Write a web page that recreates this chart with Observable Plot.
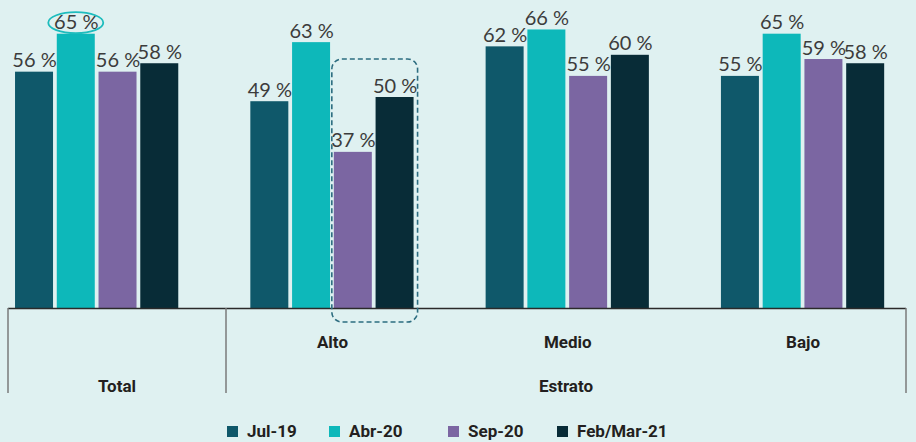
<!DOCTYPE html>
<html>
<head>
<meta charset="utf-8">
<script src="https://cdn.jsdelivr.net/npm/d3@7"></script>
<script src="https://cdn.jsdelivr.net/npm/@observablehq/plot@0.6"></script>
<style>
  html, body { margin: 0; padding: 0; background: #dff1f1; }
  #wrap { position: relative; width: 916px; height: 442px; overflow: hidden; background: #dff1f1; }
  #legend { position: absolute; left: 0; top: 421px; width: 916px; height: 21px;
    font-family: Roboto, "Liberation Sans", sans-serif; font-weight: 700; font-size: 17px; color: #231f20; }
  #legend .it { position: absolute; top: 0; white-space: nowrap; display: flex; align-items: center; }
  #legend .sw { display: inline-block; width: 11px; height: 11px; margin-right: 9px; }
</style>
</head>
<body>
<div id="wrap"><div id="chart"></div><div id="legend"></div></div>
<script>
const groups = ["Total", "Alto", "Medio", "Bajo"];
const periods = ["Jul-19", "Abr-20", "Sep-20", "Feb/Mar-21"];
const colors = ["#0f586a", "#0db8ba", "#7b66a2", "#082c37"];
const valJul19 = [56, 49, 62, 55];
const valAbr20 = [65, 63, 66, 65];
const valSep20 = [56, 37, 55, 59];
const valFeb21 = [58, 50, 60, 58];
const subLabels = ["Alto", "Medio", "Bajo"];
const headLabels = ["Total", "Estrato"];

const series = [valJul19, valAbr20, valSep20, valFeb21];
const data = [];
groups.forEach((g, gi) => periods.forEach((p, pi) => data.push({group: g, period: p, value: series[pi][gi]})));

(function () {
const W = 916, H = 415;
const plot = Plot.plot({
  width: W, height: H,
  marginTop: 0, marginLeft: 0, marginRight: 0, marginBottom: H - 308,
  style: {background: "transparent", fontFamily: "Lato, 'Open Sans', sans-serif"},
  fx: {domain: groups, range: [-21, 920.2], padding: 0, round: false, axis: null},
  x: {domain: periods, paddingInner: 0.09, paddingOuter: 0.863, round: false, axis: null},
  y: {domain: [0, 100], range: [308, -114], axis: null},
  color: {domain: periods, range: colors},
  marks: [
    Plot.barY(data, {fx: "group", x: "period", y: "value", fill: "period"}),
    Plot.text(data, {fx: "group", x: "period", y: "value", text: d => `${d.value} %`,
      dy: -5, lineAnchor: "bottom", fontSize: 20, fontWeight: 400, fill: "#3c3c3c"}),
    Plot.text(subLabels.map(g => ({group: g})), {fx: "group", text: "group", frameAnchor: "bottom",
      dy: 34, lineAnchor: "middle", fontSize: 17, fontWeight: 700, fill: "#231f20",
      fontFamily: "Roboto, 'Liberation Sans', sans-serif"})
  ]
});
document.getElementById("chart").appendChild(plot);

const svg = d3.select(plot);
const fx = plot.scale("fx"), x = plot.scale("x"), y = plot.scale("y");
const y0 = y.apply(0);
const bw = x.bandwidth;
const g = svg.append("g");
const sepX = [8, 226, 906];
g.append("line").attr("x1", sepX[0]).attr("x2", sepX[2]).attr("y1", y0 + 0.5).attr("y2", y0 + 0.5)
  .attr("stroke", "#2a2a2a").attr("stroke-width", 1.5);
sepX.forEach(sx => g.append("line").attr("x1", sx).attr("x2", sx).attr("y1", y0).attr("y2", 393)
  .attr("stroke", "#7a7a7a").attr("stroke-width", 1.5));
headLabels.forEach((t, i) => g.append("text").attr("x", (sepX[i] + sepX[i + 1]) / 2).attr("y", 388)
  .attr("text-anchor", "middle").attr("dominant-baseline", "middle")
  .attr("font-family", "Roboto, 'Liberation Sans', sans-serif").attr("font-weight", 700)
  .attr("font-size", 17).attr("fill", "#231f20").text(t));

const cx = fx.apply("Total") + x.apply("Abr-20") + bw / 2;
g.append("ellipse").attr("cx", cx).attr("cy", y.apply(valAbr20[0]) - 11).attr("rx", 27.5).attr("ry", 10.5)
  .attr("fill", "none").attr("stroke", "#1dbcbd").attr("stroke-width", 1.8);

const bxLeft = fx.apply("Alto") + x.apply("Sep-20") - 2;
const bxRight = fx.apply("Alto") + x.apply("Feb/Mar-21") + bw + 4;
const bxTop = y.apply(valFeb21[1]) - 38;
g.append("rect").attr("x", bxLeft).attr("y", bxTop).attr("width", bxRight - bxLeft).attr("height", y0 + 14 - bxTop)
  .attr("rx", 10).attr("fill", "none").attr("stroke", "#2d6d80").attr("stroke-width", 1.6)
  .attr("stroke-dasharray", "5,3");

const legPos = [227, 329, 448, 557];
const leg = d3.select("#legend");
periods.forEach((p, i) => {
  const it = leg.append("div").attr("class", "it").style("left", legPos[i] + "px");
  it.append("span").attr("class", "sw").style("background", colors[i]);
  it.append("span").text(p);
});
})();
</script>
</body>
</html>
